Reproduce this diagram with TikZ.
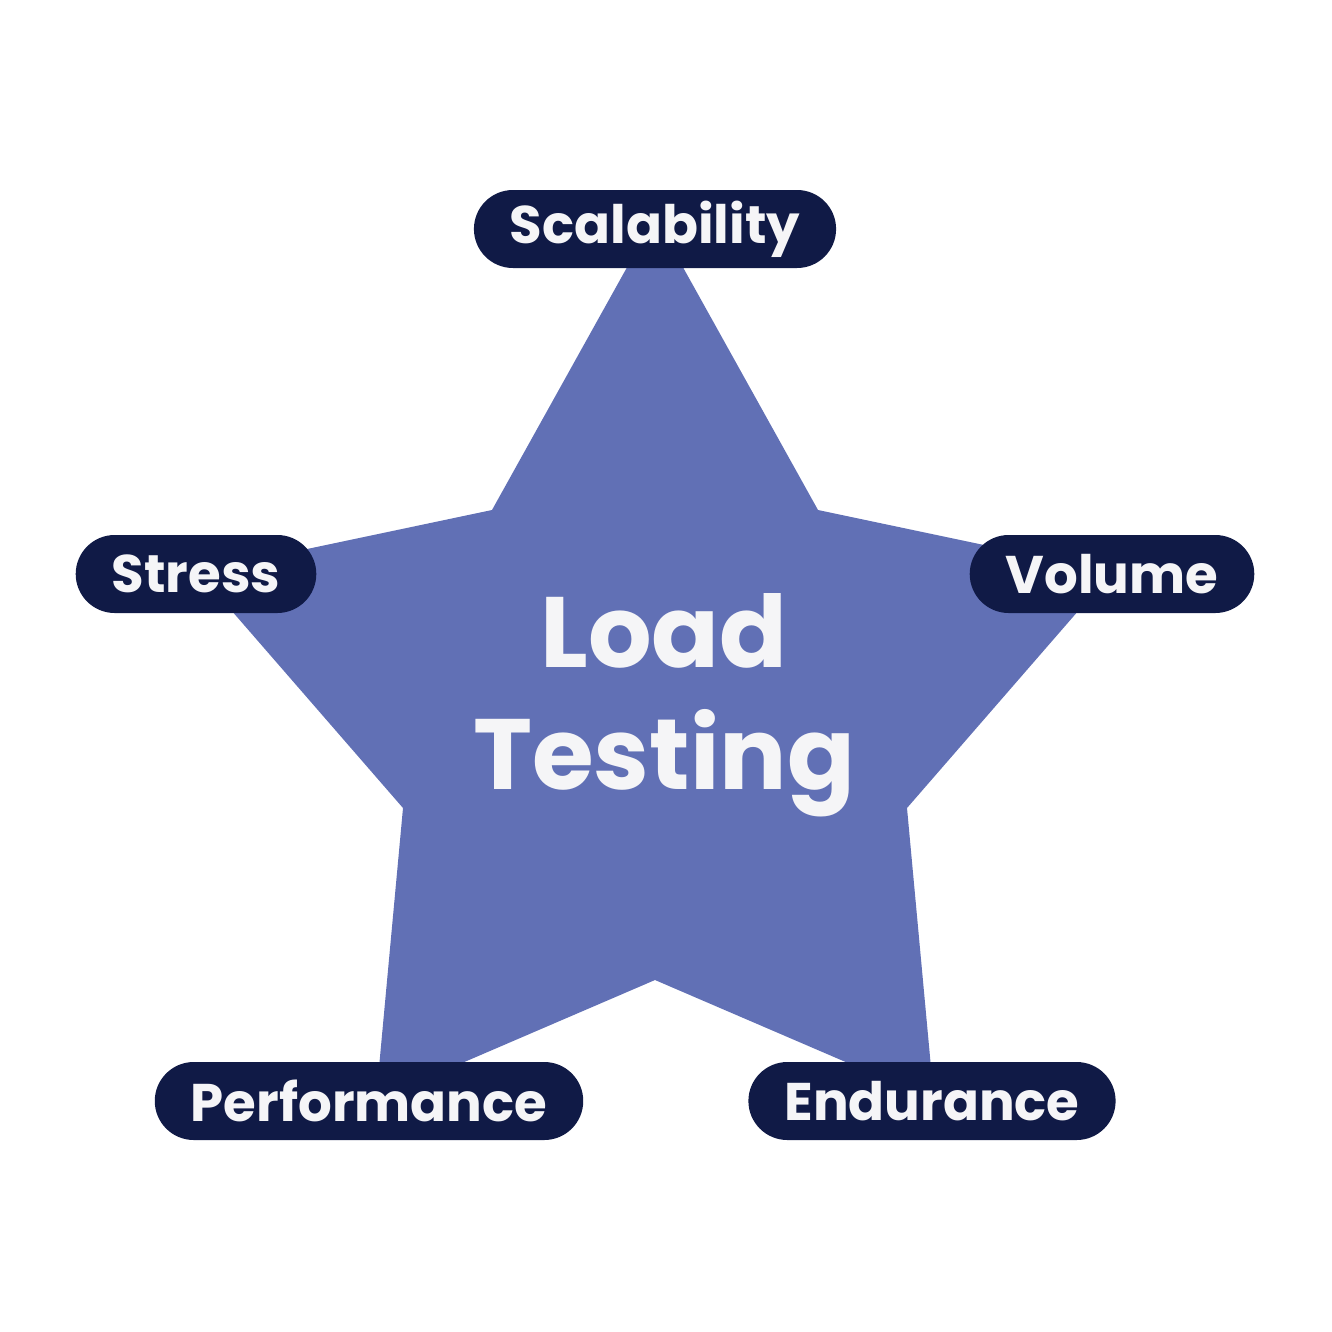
\documentclass[tikz,border=0pt]{standalone}
\usepackage{fontspec}
\setmainfont{Poppins}
\definecolor{starblue}{HTML}{6170B5}
\definecolor{pillnavy}{HTML}{101A46}
\definecolor{pilltext}{HTML}{F5F5F7}
\begin{document}
\begin{tikzpicture}[x=1pt,y=-1pt,
    pill/.style={fill=pillnavy,text=pilltext,rounded corners=39pt,minimum height=78pt,
      inner xsep=36pt,font=\fontsize{53}{53}\selectfont\bfseries},
    core/.style={text=pilltext,align=center,font=\fontsize{100}{122}\selectfont\bfseries}]
    \useasboundingbox (0,0) rectangle (1332,1331);
    \fill[starblue](655,217)--(818,510)--(1112,572)--(907,808)--(934,1100)
      --(655,980)--(376,1100)--(403,808)--(198,572)--(492,510)--cycle;
    \node[core] (load) at (664,705){Load\\Testing};
    \node[pill] (scal) at (655,229){Scalability};
    \node[pill] (stress) at (196,574){Stress};
    \node[pill] (vol) at (1112,574){Volume};
    \node[pill] (perf) at (369,1101){Performance};
    \node[pill] (endu) at (932,1101){Endurance};
\end{tikzpicture}
\end{document}
